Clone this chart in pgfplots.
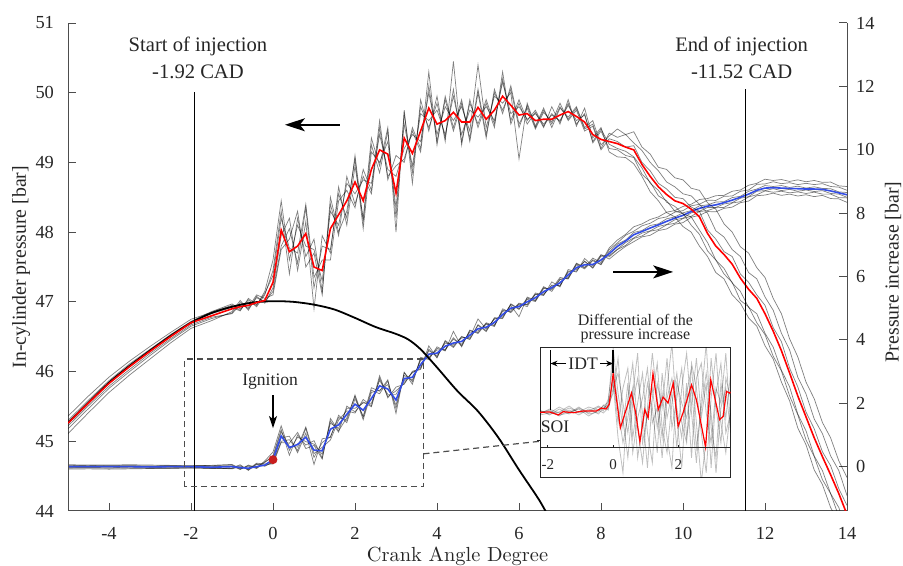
\documentclass[border=0pt]{standalone}
\usepackage{fontspec}
\setmainfont{Liberation Serif}
\usepackage{pgfplots}
\usepackage{pgfplotstable}
\pgfplotsset{compat=1.18}
\usetikzlibrary{arrows.meta}
\definecolor{axgray}{RGB}{77,77,77}
\definecolor{txtgray}{RGB}{38,38,38}
\definecolor{mred}{RGB}{255,0,0}
\definecolor{mblue}{RGB}{51,77,230}
\definecolor{dotred}{RGB}{200,30,30}

\pgfplotstableread{
x m g1 g2 g3 g4 g5 g6
-5.0 45.26 45.36 45.18 45.30 45.11 45.28 45.22
-4.5 45.55 45.65 45.47 45.59 45.41 45.57 45.51
-4.0 45.83 45.92 45.76 45.87 45.70 45.85 45.79
-3.5 46.07 46.15 46.00 46.11 45.95 46.09 46.03
-3.0 46.29 46.36 46.23 46.32 46.18 46.31 46.26
-2.5 46.50 46.56 46.45 46.53 46.41 46.52 46.47
-2.0 46.70 46.75 46.65 46.72 46.62 46.71 46.67
-1.5 46.80 46.85 46.76 46.86 46.73 46.83 46.78
-1.0 46.90 46.95 46.84 46.97 46.86 46.92 46.83
-0.8 46.93 46.88 46.99 46.90 47.02 46.87 46.96
-0.6 46.95 47.03 46.90 47.00 46.88 47.05 46.92
-0.4 46.99 46.93 47.06 46.95 47.08 46.96 47.10
-0.2 47.02 47.10 47.00 47.15 46.98 47.12 47.05
0.0 47.28 47.45 47.15 47.60 47.20 47.38 47.10
0.2 48.03 48.30 47.80 48.45 47.95 48.20 47.75
0.4 47.72 47.40 48.05 47.60 48.20 47.77 47.90
0.6 47.80 48.20 47.55 48.10 47.45 47.70 48.30
0.8 47.98 47.65 48.35 47.80 48.15 48.40 47.50
1.0 47.50 47.90 47.20 47.75 46.90 47.35 47.70
1.2 47.45 47.15 47.80 47.30 47.95 47.60 47.10
1.4 48.05 48.40 47.75 48.30 47.70 47.60 48.50
1.6 48.25 47.95 48.55 48.10 48.65 48.45 48.00
1.8 48.45 48.80 48.20 48.70 48.10 48.60 48.30
2.0 48.72 48.40 49.10 48.55 48.95 48.35 49.05
2.2 48.45 48.80 48.15 48.75 48.20 48.90 48.05
2.4 48.90 48.55 49.25 48.70 49.35 48.60 49.15
2.6 49.18 49.50 48.85 49.40 48.95 49.60 49.00
2.8 49.12 48.80 49.45 48.90 49.50 48.75 49.30
3.0 48.56 48.95 48.20 48.80 48.00 49.10 48.35
3.2 49.35 49.05 49.70 49.20 49.75 49.00 49.55
3.4 49.13 49.45 48.85 49.40 48.70 49.50 48.95
3.6 49.45 49.15 49.80 49.30 49.90 49.20 49.70
3.8 49.78 50.10 49.50 50.00 49.45 50.30 49.60
4.0 49.55 49.30 49.85 49.40 49.95 49.25 49.75
4.2 49.60 49.90 49.35 49.80 49.30 49.95 49.40
4.4 49.72 49.45 50.05 49.60 50.45 49.50 49.95
4.6 49.58 49.85 49.30 49.80 49.25 49.90 49.40
4.8 49.58 49.35 49.85 49.45 49.90 49.30 49.75
5.0 49.79 50.05 49.55 50.40 49.50 50.00 49.65
5.2 49.62 49.40 49.90 49.50 49.85 49.35 49.80
5.4 49.75 50.00 49.55 49.95 49.50 50.05 49.60
5.6 49.95 49.75 50.20 49.85 50.30 49.70 50.15
5.8 49.82 50.05 49.60 50.00 49.55 50.10 49.70
6.0 49.68 49.50 49.90 49.05 49.85 49.55 49.80
6.2 49.70 49.82 49.60 49.85 49.55 49.78 49.62
6.4 49.60 49.50 49.75 49.52 49.72 49.48 49.70
6.6 49.62 49.75 49.52 49.78 49.50 49.72 49.55
6.8 49.62 49.55 49.70 49.50 49.80 49.58 49.68
7.0 49.68 49.80 49.58 49.78 49.55 49.85 49.60
7.2 49.73 49.62 49.85 49.65 49.90 49.60 49.82
7.4 49.66 49.78 49.55 49.80 49.52 49.75 49.60
7.6 49.58 49.48 49.70 49.50 49.78 49.45 49.68
7.8 49.40 49.55 49.28 49.60 49.35 49.52 49.30
8.0 49.33 49.20 49.45 49.25 49.50 49.18 49.48
8.2 49.30 49.42 49.20 49.38 49.15 49.34 49.26
8.4 49.27 49.36 49.18 49.48 49.08 49.30 49.20
8.6 49.22 49.40 49.10 49.40 49.07 49.22 49.16
8.8 49.18 49.28 49.07 49.44 48.98 49.24 49.08
9.0 48.97 49.17 48.83 49.22 48.80 49.00 48.92
9.2 48.80 49.00 48.72 49.12 48.58 48.88 48.70
9.4 48.65 48.88 48.52 48.93 48.45 48.70 48.60
9.6 48.54 48.72 48.45 48.90 48.28 48.62 48.43
9.8 48.45 48.65 48.30 48.78 48.22 48.50 48.37
10.0 48.41 48.55 48.27 48.75 48.08 48.48 48.26
10.2 48.33 48.52 48.10 48.63 48.00 48.36 48.22
10.4 48.22 48.40 47.97 48.60 47.80 48.30 48.03
10.6 47.98 48.27 47.73 48.42 47.65 48.03 47.85
10.8 47.80 48.02 47.60 48.33 47.42 47.90 47.60
11.0 47.68 47.93 47.40 48.12 47.33 47.72 47.48
11.2 47.54 47.75 47.28 48.00 47.10 47.65 47.27
11.4 47.34 47.65 47.02 47.79 46.98 47.40 47.15
11.6 47.18 47.42 46.93 47.70 46.77 47.28 46.92
11.8 47.05 47.33 46.70 47.49 46.65 47.10 46.83
12.0 46.83 47.07 46.53 47.35 46.37 46.95 46.55
12.2 46.58 46.88 46.22 47.05 46.18 46.63 46.35
12.4 46.30 46.55 46.01 46.83 45.85 46.43 46.02
12.6 45.98 46.31 45.65 46.47 45.58 46.05 45.78
12.8 45.65 45.92 45.38 46.21 45.19 45.78 45.39
13.0 45.35 45.68 45.02 45.85 44.95 45.42 45.15
13.2 45.05 45.32 44.78 45.61 44.59 45.18 44.79
13.4 44.78 45.11 44.45 45.27 44.38 44.85 44.58
13.6 44.52 44.79 44.25 45.05 44.05 44.65 44.25
13.8 44.25 44.58 43.92 44.72 43.83 44.32 44.05
14.0 43.95 44.22 43.68 44.48 43.49 44.08 43.69
}\Pdata

\pgfplotstableread{
x b g1 g2 g3 g4 g5 g6
-5.0 0.00 0.06 -0.05 0.03 -0.08 0.02 -0.03
-4.5 0.00 0.05 -0.04 0.04 -0.07 0.01 -0.03
-4.0 0.00 0.05 -0.05 0.02 -0.08 0.03 -0.02
-3.5 0.00 0.06 -0.04 0.03 -0.07 0.02 -0.04
-3.0 -0.01 0.05 -0.05 0.02 -0.06 0.01 -0.03
-2.5 0.00 0.04 -0.04 0.03 -0.06 0.02 -0.02
-2.0 0.00 0.04 -0.03 0.02 -0.05 0.01 -0.02
-1.5 -0.02 0.03 -0.05 0.04 -0.06 0.00 -0.04
-1.0 0.00 0.05 -0.06 0.07 -0.04 0.02 -0.07
-0.8 -0.03 -0.08 0.03 -0.06 0.06 -0.09 0.00
-0.6 -0.05 0.03 -0.10 0.00 -0.12 0.05 -0.08
-0.4 0.00 -0.06 0.07 -0.04 0.09 -0.03 0.11
-0.2 0.05 0.13 0.03 0.18 0.01 0.15 0.08
0.0 0.22 0.35 0.12 0.46 0.16 0.30 0.08
0.2 0.97 1.17 0.80 1.29 0.91 1.10 0.76
0.4 0.60 0.36 0.85 0.51 0.96 0.64 0.74
0.6 0.70 1.00 0.51 0.93 0.44 0.62 1.08
0.8 0.93 0.68 1.21 0.79 1.06 1.25 0.57
1.0 0.52 0.82 0.29 0.71 0.07 0.41 0.67
1.2 0.50 0.27 0.76 0.39 0.88 0.61 0.24
1.4 1.18 1.44 0.95 1.37 0.92 0.84 1.52
1.6 1.32 1.09 1.55 1.21 1.62 1.47 1.13
1.8 1.65 1.91 1.46 1.84 1.39 1.76 1.54
2.0 1.97 1.73 2.26 1.84 2.14 1.69 2.22
2.2 1.78 2.04 1.55 2.01 1.59 2.12 1.48
2.4 2.15 1.89 2.41 2.00 2.49 1.92 2.34
2.6 2.55 2.79 2.30 2.72 2.38 2.87 2.41
2.8 2.45 2.21 2.70 2.28 2.74 2.17 2.59
3.0 2.10 2.39 1.83 2.28 1.68 2.51 1.94
3.2 2.78 2.63 2.96 2.70 2.98 2.60 2.88
3.4 2.82 2.98 2.68 2.96 2.60 3.01 2.73
3.6 3.22 3.07 3.40 3.14 3.45 3.09 3.35
3.8 3.55 3.71 3.41 3.66 3.38 3.81 3.46
4.0 3.58 3.45 3.73 3.50 3.78 3.43 3.68
4.2 3.80 3.95 3.67 3.90 3.65 3.98 3.70
4.4 3.90 3.76 4.07 3.84 4.27 3.79 4.02
4.6 3.95 4.09 3.81 4.06 3.78 4.11 3.86
4.8 4.15 4.03 4.29 4.08 4.31 4.01 4.24
5.0 4.35 4.48 4.23 4.66 4.20 4.46 4.28
5.2 4.40 4.29 4.54 4.34 4.52 4.26 4.49
5.4 4.55 4.68 4.45 4.65 4.42 4.70 4.47
5.6 4.80 4.70 4.93 4.75 4.98 4.67 4.90
5.8 5.00 5.12 4.89 5.09 4.86 5.14 4.94
6.0 5.05 4.96 5.16 4.73 5.14 4.98 5.11
6.2 5.20 5.32 5.10 5.35 5.05 5.28 5.12
6.4 5.33 5.23 5.48 5.25 5.45 5.21 5.43
6.6 5.52 5.65 5.42 5.68 5.40 5.62 5.45
6.8 5.65 5.58 5.73 5.53 5.83 5.61 5.71
7.0 5.80 5.92 5.70 5.90 5.67 5.97 5.72
7.2 6.05 5.94 6.17 5.97 6.22 5.92 6.14
7.4 6.28 6.40 6.17 6.42 6.14 6.37 6.22
7.6 6.37 6.27 6.49 6.29 6.57 6.24 6.47
7.8 6.38 6.53 6.26 6.58 6.33 6.50 6.28
8.0 6.52 6.39 6.64 6.44 6.69 6.37 6.67
8.2 6.72 6.85 6.62 6.90 6.55 6.78 6.66
8.4 6.95 7.06 6.85 7.15 6.76 7.02 6.86
8.6 7.12 7.30 6.98 7.33 6.95 7.15 7.07
8.8 7.32 7.43 7.20 7.57 7.10 7.39 7.22
9.0 7.42 7.60 7.28 7.66 7.25 7.45 7.37
9.2 7.53 7.68 7.43 7.80 7.30 7.61 7.44
9.4 7.63 7.83 7.48 7.88 7.45 7.66 7.58
9.6 7.74 7.88 7.63 8.03 7.50 7.82 7.64
9.8 7.84 8.03 7.68 8.08 7.65 7.88 7.79
10.0 7.93 8.08 7.83 8.21 7.70 8.01 7.84
10.2 8.05 8.23 7.90 8.28 7.87 8.08 8.01
10.4 8.15 8.28 8.05 8.43 7.93 8.23 8.06
10.6 8.22 8.41 8.08 8.46 8.05 8.26 8.18
10.8 8.26 8.40 8.17 8.55 8.04 8.35 8.18
11.0 8.33 8.53 8.18 8.56 8.15 8.36 8.29
11.2 8.41 8.54 8.32 8.69 8.19 8.49 8.33
11.4 8.50 8.69 8.36 8.73 8.33 8.53 8.47
11.6 8.60 8.73 8.51 8.88 8.38 8.69 8.52
11.8 8.72 8.91 8.58 8.94 8.55 8.76 8.69
12.0 8.79 8.92 8.70 9.07 8.57 8.87 8.71
12.2 8.80 8.99 8.66 9.03 8.63 8.84 8.77
12.4 8.79 8.93 8.69 9.06 8.56 8.87 8.71
12.6 8.78 8.96 8.64 9.00 8.60 8.81 8.75
12.8 8.77 8.90 8.67 9.05 8.54 8.85 8.69
13.0 8.76 8.94 8.62 8.99 8.58 8.79 8.73
13.2 8.76 8.90 8.66 9.03 8.52 8.83 8.68
13.4 8.75 8.93 8.60 8.97 8.56 8.78 8.71
13.6 8.70 8.84 8.60 8.98 8.46 8.77 8.62
13.8 8.64 8.82 8.49 8.86 8.45 8.67 8.60
14.0 8.58 8.72 8.48 8.84 8.34 8.65 8.50
}\Idata

\pgfplotstableread{
x v
-5.0 45.26
-4.5 45.55
-4.0 45.84
-3.5 46.08
-3.0 46.30
-2.5 46.51
-2.0 46.70
-1.5 46.84
-1.0 46.93
-0.5 46.99
0.0 47.01
0.5 47.00
1.0 46.96
1.5 46.89
2.0 46.77
2.5 46.64
3.0 46.54
3.3 46.46
3.6 46.32
4.0 46.06
4.5 45.72
5.0 45.43
5.5 45.05
6.0 44.59
6.5 44.15
6.8 43.83
}\Mot

\pgfplotstableread{
x a b c d e f
-2.25 3.4 3.8 3.6 3.3 3.7 3.5
-1.95 3.9 3.3 3.7 3.5 3.4 3.8
-1.65 3.5 3.9 3.2 4.1 3.6 3.3
-1.35 4.0 3.4 3.8 3.6 4.2 3.5
-1.05 3.6 4.0 3.3 3.9 3.5 4.1
-0.75 4.1 3.5 3.9 3.2 3.7 3.4
-0.45 3.8 4.1 3.4 3.8 4.2 3.6
-0.30 4.2 3.7 4.0 3.5 3.9 4.3
-0.15 4.6 4.9 4.3 4.0 4.5 3.8
0.00 6.5 8.5 5.5 7.0 10.0 6.0
0.15 1.0 4.0 9.0 2.5 5.5 7.5
0.30 -2.5 0.5 3.0 6.0 2.0 4.5
0.45 5.0 3.0 -1.0 8.0 6.5 1.5
0.60 8.5 6.0 4.5 1.0 -0.5 5.5
0.75 2.0 -1.0 7.0 4.5 3.0 9.5
0.90 -1.5 2.5 3.5 7.5 5.0 0.5
1.05 4.0 6.5 -2.0 1.5 8.0 3.5
1.20 9.5 4.0 5.0 -1.5 2.5 6.0
1.35 5.0 -0.5 8.5 6.5 4.0 2.0
1.50 1.0 7.5 2.0 4.0 -1.0 5.5
1.65 6.0 3.0 -0.5 9.0 5.0 1.0
1.80 10.5 5.5 4.5 2.0 7.0 -2.0
1.95 3.0 0.0 7.5 5.0 4.0 6.5
2.10 -2.0 6.0 2.5 8.0 1.0 4.5
2.25 5.5 9.5 0.5 1.0 6.5 3.0
2.40 8.0 3.5 8.5 4.5 -1.0 6.0
2.55 2.5 -1.5 6.0 9.0 7.0 0.0
2.70 -3.5 5.0 1.5 3.0 8.5 4.0
2.85 1.0 10.5 -2.5 6.5 3.5 7.5
3.00 9.0 2.0 5.0 -2.0 0.5 3.5
3.15 4.0 -1.0 9.5 5.5 6.0 -2.5
3.30 0.5 6.5 2.5 8.5 4.5 4.0
3.45 7.0 3.0 -0.5 1.5 9.5 6.0
3.60 5.0 7.5 4.0 3.5 2.0 1.5
}\Gin

\begin{document}
\begin{tikzpicture}
\useasboundingbox (-34pt,-27.5pt) rectangle (417.5pt,255.5pt);
\pgfplotsset{
  mainstyle/.style={at={(0pt,0pt)}, anchor=south west, scale only axis,
    width=389.5pt, height=244pt, xmin=-5, xmax=14, clip=true,
    /pgf/number format/assume math mode=true,
    tick label style={font=\fontsize{9.2}{11}\selectfont, text=txtgray},
    axis line style={axgray, line width=0.5pt},
    major tick style={axgray, line width=0.5pt},
    major tick length=3.9pt, tick align=inside,
    label style={font=\fontsize{9.9}{11}\selectfont, text=txtgray}},
  gtrace/.style={draw=black, opacity=0.5, line width=0.35pt, mark=none},
}
% ---------- right axis: pressure increase ----------
\begin{axis}[mainstyle, ymin=-1.40, ymax=14.0,
  axis y line*=right, axis x line=none, xtick=\empty,
  ytick={0,2,...,14},
  yticklabel style={xshift=1pt},
  ylabel={Pressure increase [bar]},
  ylabel style={at={(axis description cs:1.059,0.49)}, anchor=center}]
\addplot[gtrace] table[x=x,y=g1]{\Idata};
\addplot[gtrace] table[x=x,y=g2]{\Idata};
\addplot[gtrace] table[x=x,y=g3]{\Idata};
\addplot[gtrace] table[x=x,y=g4]{\Idata};
\addplot[gtrace] table[x=x,y=g5]{\Idata};
\addplot[gtrace] table[x=x,y=g6]{\Idata};
\addplot[mblue, line width=0.8pt, mark=none] table[x=x,y=b]{\Idata};
\addplot[only marks, mark=*, mark size=2pt, color=dotred] coordinates {(0,0.22)};
\end{axis}
% ---------- left axis: in-cylinder pressure ----------
\begin{axis}[mainstyle, ymin=44, ymax=51,
  axis x line*=bottom, axis y line*=left,
  xtick={-4,-2,...,14}, ytick={44,45,...,51},
  xticklabel style={yshift=-4.5pt},
  yticklabel style={xshift=-3.5pt},
  xlabel={\fontfamily{lmr}\fontsize{10.2}{12}\selectfont Crank Angle Degree},
  xlabel style={at={(axis description cs:0.5,-0.0937)}, anchor=center},
  ylabel={In-cylinder pressure [bar]},
  ylabel style={at={(axis description cs:-0.0603,0.5)}, anchor=center}]
\addplot[gtrace] table[x=x,y=g1]{\Pdata};
\addplot[gtrace] table[x=x,y=g2]{\Pdata};
\addplot[gtrace] table[x=x,y=g3]{\Pdata};
\addplot[gtrace] table[x=x,y=g4]{\Pdata};
\addplot[gtrace] table[x=x,y=g5]{\Pdata};
\addplot[gtrace] table[x=x,y=g6]{\Pdata};
\addplot[black, line width=0.9pt, mark=none, smooth, tension=0.5] table[x=x,y=v]{\Mot};
\addplot[mred, line width=0.8pt, mark=none] table[x=x,y=m]{\Pdata};
% injection lines and labels
\draw[black, line width=0.75pt] (axis cs:-1.92,44) -- (axis cs:-1.92,50.01);
\draw[black, line width=0.75pt] (axis cs:11.52,44) -- (axis cs:11.52,50.06);
\node[align=center, font=\fontsize{10.3}{13.3}\selectfont, text=txtgray] at (axis cs:-1.83,50.5) {Start of injection\\-1.92 CAD};
\node[align=center, font=\fontsize{10.3}{13.3}\selectfont, text=txtgray] at (axis cs:11.43,50.5) {End of injection\\-11.52 CAD};
% direction arrows
\draw[black, line width=0.75pt, -{Stealth[length=10pt,width=6.5pt,inset=2.5pt]}] (axis cs:1.63,49.54) -- (axis cs:0.29,49.54);
\draw[black, line width=0.75pt, -{Stealth[length=10pt,width=6.5pt,inset=2.5pt]}] (axis cs:8.30,47.43) -- (axis cs:9.76,47.43);
% ignition
\node[font=\fontsize{8.8}{10}\selectfont, text=txtgray] at (axis cs:-0.07,45.85) {Ignition};
\draw[black, line width=0.6pt, -{Stealth[length=6pt,width=4pt,inset=1.5pt]}] (axis cs:0,45.66) -- (axis cs:0,45.19);
% zoom box and connector
\draw[axgray, dash pattern=on 3pt off 2pt, line width=0.6pt] (axis cs:-2.15,44.35) rectangle (axis cs:3.67,46.18);
\draw[axgray, dash pattern=on 3pt off 2pt, line width=0.6pt] (axis cs:3.67,44.82) -- (axis cs:6.51,45.0);
\end{axis}
% ---------- inset ----------
\begin{axis}[at={(236pt,16.65pt)}, anchor=south west, scale only axis,
  width=95.35pt, height=65.2pt, xmin=-2.24, xmax=3.6, ymin=-3.0, ymax=10.1,
  xtick=\empty, ytick={0.7}, yticklabels={}, ytick pos=left,
  tick align=outside, major tick length=1.6pt,
  major tick style={black!85, line width=0.4pt},
  axis line style={black!85, line width=0.5pt},
  axis background/.style={fill=white}, clip mode=individual]
\addplot[draw=black, opacity=0.25, line width=0.4pt, mark=none] table[x=x,y=a]{\Gin};
\addplot[draw=black, opacity=0.25, line width=0.4pt, mark=none] table[x=x,y=b]{\Gin};
\addplot[draw=black, opacity=0.25, line width=0.4pt, mark=none] table[x=x,y=c]{\Gin};
\addplot[draw=black, opacity=0.25, line width=0.4pt, mark=none] table[x=x,y=d]{\Gin};
\addplot[draw=black, opacity=0.25, line width=0.4pt, mark=none] table[x=x,y=e]{\Gin};
\addplot[draw=black, opacity=0.25, line width=0.4pt, mark=none] table[x=x,y=f]{\Gin};
\addplot[mred, line width=0.6pt, mark=none] coordinates {
(-2.24,3.57) (-1.94,3.60) (-1.68,3.30) (-1.53,3.63) (-1.22,3.53) (-0.92,3.70)
(-0.51,3.70) (-0.36,4.00) (-0.22,3.90) (-0.12,4.37) (0,7.47) (0.22,2.0)
(0.56,5.5) (0.69,3.5) (0.82,0.63) (0.97,3.83) (1.07,3.0) (1.22,7.47)
(1.38,3.83) (1.53,5.1) (1.68,4.5) (1.84,6.5) (1.99,2.17) (2.14,3.5)
(2.40,6.33) (2.55,4.83) (2.83,0.07) (2.99,6.83) (3.26,2.83) (3.37,3.17)
(3.47,5.67) (3.57,5.5) (3.6,5.6)};
% middle x axis line with ticks
\draw[black!85, line width=0.5pt] (axis cs:-2.24,0) -- (axis cs:3.6,0);
\draw[black!85, line width=0.4pt] (axis cs:-2,0) -- (axis cs:-2,0.3);
\draw[black!85, line width=0.4pt] (axis cs:0,0) -- (axis cs:0,0.3);
\draw[black!85, line width=0.4pt] (axis cs:2,0) -- (axis cs:2,0.3);
\node[font=\fontsize{7.5}{9}\selectfont, text=txtgray] at (axis cs:-2,-1.7) {-2};
\node[font=\fontsize{7.5}{9}\selectfont, text=txtgray] at (axis cs:0,-1.7) {0};
\node[font=\fontsize{7.5}{9}\selectfont, text=txtgray] at (axis cs:2,-1.7) {2};
% SOI and IDT marks
\draw[black, line width=0.75pt] (axis cs:-1.92,3.8) -- (axis cs:-1.92,9.8);
\draw[black, line width=0.75pt] (axis cs:0,7.47) -- (axis cs:0,9.8);
\node[font=\fontsize{8.8}{10}\selectfont, text=txtgray, inner sep=1pt] (idt) at (axis cs:-0.92,8.47) {IDT};
\draw[black, line width=0.5pt, -{Stealth[length=3.5pt,width=2.8pt]}] (idt.west) -- (axis cs:-1.92,8.47);
\draw[black, line width=0.5pt, -{Stealth[length=3.5pt,width=2.8pt]}] (idt.east) -- (axis cs:0,8.47);
\node[font=\fontsize{8.8}{10}\selectfont, text=txtgray] at (axis cs:-1.78,2.07) {SOI};
\node[anchor=south, align=center, inner sep=0pt, yshift=2pt, font=\fontsize{8}{7.2}\selectfont, text=txtgray] at (rel axis cs:0.5,1) {Differential of the\\pressure increase};
\end{axis}
\end{tikzpicture}
\end{document}
